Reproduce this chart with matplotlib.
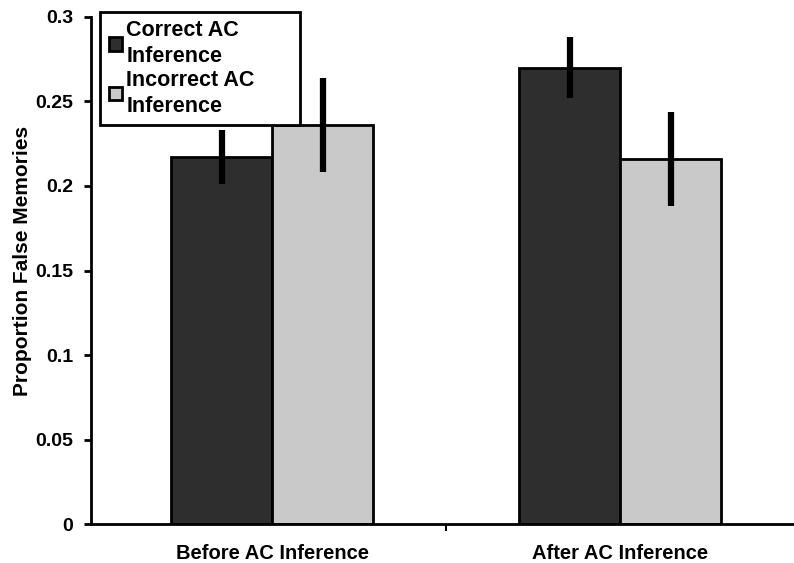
import matplotlib
matplotlib.use("Agg")
import matplotlib.pyplot as plt
from matplotlib.ticker import FixedLocator

plt.rcParams['font.family'] = ['Liberation Sans', 'DejaVu Sans']
plt.rcParams['font.weight'] = 'bold'

categories = ["Before AC Inference", "After AC Inference"]
series_names = ["Correct AC\nInference", "Incorrect AC\nInference"]
correct_vals = [0.217, 0.270]
correct_err = [0.016, 0.018]
incorrect_vals = [0.236, 0.216]
incorrect_err = [0.028, 0.028]
yticks = [0, 0.05, 0.1, 0.15, 0.2, 0.25, 0.3]
ytick_labels = ["0", "0.05", "0.1", "0.15", "0.2", "0.25", "0.3"]

fig = plt.figure(figsize=(7.94, 5.63), dpi=100)
ax = fig.add_axes([0.115, 0.069, 0.885, 0.901])

width = 0.29
x = list(range(len(categories)))
xc = [i - width / 2 for i in x]
xi = [i + width / 2 for i in x]

ax.bar(xc, correct_vals, width, color='#2e2e2e', edgecolor='black', linewidth=2,
       label=series_names[0], zorder=2)
ax.bar(xi, incorrect_vals, width, color='#c9c9c9', edgecolor='black', linewidth=2,
       label=series_names[1], zorder=2)
ax.errorbar(xc, correct_vals, yerr=correct_err, fmt='none', ecolor='black',
            elinewidth=4.5, capsize=0, zorder=3)
ax.errorbar(xi, incorrect_vals, yerr=incorrect_err, fmt='none', ecolor='black',
            elinewidth=4.5, capsize=0, zorder=3)

ax.set_xlim(-0.52, 1.5)
ax.set_ylim(0, 0.3)
ax.set_yticks(yticks)
ax.set_yticklabels(ytick_labels, fontsize=14, fontweight='bold')
ax.set_xticks(x)
ax.set_xticklabels(categories, fontsize=14.5, fontweight='bold')
ax.tick_params(axis='x', which='major', length=0, pad=14)
ax.xaxis.set_minor_locator(FixedLocator([0.5]))
ax.tick_params(axis='x', which='minor', length=5, width=1.5, direction='out')
ax.tick_params(axis='y', length=5, width=2, direction='out', pad=8)

for s in ['top', 'right']:
    ax.spines[s].set_visible(False)
for s in ['left', 'bottom']:
    ax.spines[s].set_linewidth(2)

ax.set_ylabel("Proportion False Memories", fontsize=15, fontweight='bold')
ax.yaxis.set_label_coords(-0.084, 0.518)

leg = ax.legend(loc='upper left', bbox_to_anchor=(0.013, 0.795, 0.284, 0.215),
                mode='expand', borderaxespad=0,
                handlelength=0.6, handleheight=0.6, handletextpad=0.2,
                borderpad=0.4, labelspacing=0.12, fancybox=False, framealpha=1,
                edgecolor='black', prop={'weight': 'bold', 'size': 15.5})
leg.get_frame().set_linewidth(2)
for t in leg.get_texts():
    t.set_linespacing(1.3)

fig.savefig("out.png", dpi=100)
